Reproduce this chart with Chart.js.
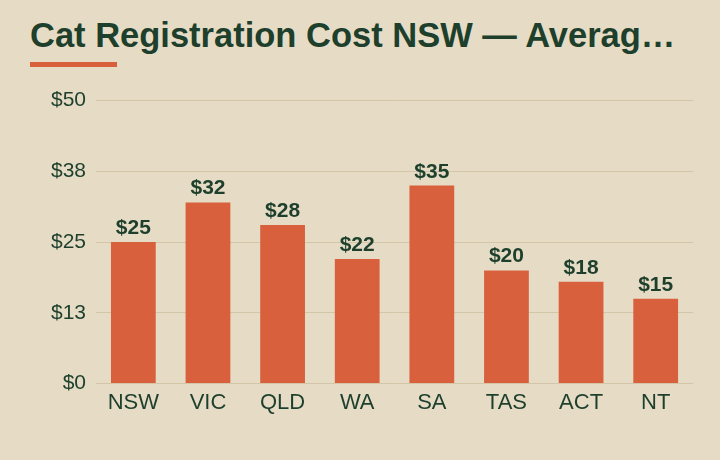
<!DOCTYPE html>
<html>
<head>
<meta charset="utf-8">
<script src="https://cdn.jsdelivr.net/npm/chart.js@4/dist/chart.umd.min.js"></script>
<style>
  html, body { margin: 0; padding: 0; background: #e6dcc6; }
  body { width: 720px; height: 460px; position: relative; overflow: hidden; font-family: "Liberation Sans", Arial, sans-serif; }
  h1 { position: absolute; left: 30px; top: 13px; width: 662px; margin: 0; font-size: 34.5px; font-weight: bold; color: #1d3f2c; white-space: nowrap; overflow: hidden; text-overflow: ellipsis; line-height: 44px; }
  .bar { position: absolute; left: 30px; top: 62px; width: 87px; height: 5px; background: #d9603d; }
  #wrap { position: absolute; left: 30px; top: 78px; width: 670px; height: 344px; }
</style>
</head>
<body>
<h1>Cat Registration Cost NSW — Average Annual Fees by State</h1>
<div class="bar"></div>
<div id="wrap"><canvas id="c"></canvas></div>
<script>
const categories = ["NSW", "VIC", "QLD", "WA", "SA", "TAS", "ACT", "NT"];
const costs = [25, 32, 28, 22, 35, 20, 18, 15];
const yTicks = [0, 12.5, 25, 37.5, 50];

const labelPlugin = {
  id: 'valueLabels',
  afterDatasetsDraw(chart) {
    const ctx = chart.ctx;
    const meta = chart.getDatasetMeta(0);
    ctx.save();
    ctx.font = 'bold 21px "Liberation Sans", Arial, sans-serif';
    ctx.fillStyle = '#1d3f2c';
    ctx.textAlign = 'center';
    ctx.textBaseline = 'alphabetic';
    meta.data.forEach((bar, i) => {
      ctx.fillText('$' + costs[i], bar.x, bar.y - 8);
    });
    ctx.restore();
  }
};

new Chart(document.getElementById('c'), {
  type: 'bar',
  data: {
    labels: categories,
    datasets: [{
      data: costs,
      backgroundColor: '#d9603d',
      barPercentage: 0.6,
      categoryPercentage: 1.0
    }]
  },
  options: {
    responsive: true,
    maintainAspectRatio: false,
    animation: false,
    layout: { padding: { top: 12, right: 7, left: 11, bottom: 0 } },
    plugins: { legend: { display: false }, tooltip: { enabled: false } },
    scales: {
      x: {
        grid: { display: false, drawTicks: false },
        border: { display: false },
        ticks: { color: '#1d3f2c', font: { size: 22, family: '"Liberation Sans", Arial, sans-serif' }, padding: 6 }
      },
      y: {
        min: 0, max: 50,
        afterBuildTicks(axis) { axis.ticks = yTicks.map(v => ({ value: v })); },
        grid: { color: '#d3c6a8', drawTicks: false, lineWidth: 1 },
        border: { display: false },
        ticks: {
          color: '#1d3f2c',
          font: { size: 21, family: '"Liberation Sans", Arial, sans-serif' },
          padding: 10,
          callback: v => '$' + Math.round(v)
        }
      }
    }
  },
  plugins: [labelPlugin]
});
</script>
</body>
</html>
